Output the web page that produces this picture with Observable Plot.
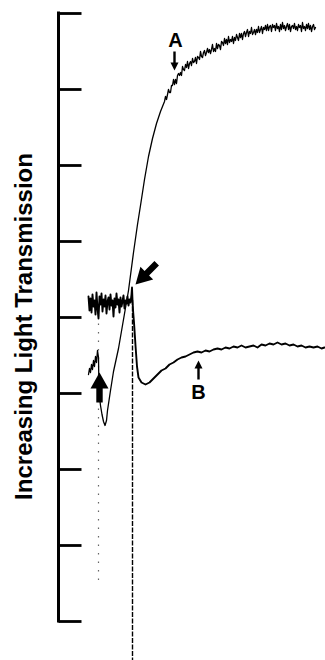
<!DOCTYPE html>
<html>
<head>
<meta charset="utf-8">
<script src="https://cdn.jsdelivr.net/npm/d3@7"></script>
<script src="https://cdn.jsdelivr.net/npm/@observablehq/plot@0.6"></script>
<style>
  html, body { margin: 0; padding: 0; background: #fff; }
  #chart { width: 325px; height: 660px; overflow: hidden; }
</style>
</head>
<body>
<div id="chart"></div>
<script>
// ---- data (time in arbitrary units, light transmission in arbitrary units) ----
const yLabel = "Increasing Light Transmission";
const yTicks = [0, 76, 152, 228, 304, 380, 456, 532, 608];
const timeDomain = [0, 265];

// Trace A
const aTime = [30,31,32,33,34,35,36,37,38,39,40,40.5,42,43.5,45,46.5,48,49,52,55,60,65,70,75,79,82,86,90,94,98,102,
  106,107,108,109,110,111,112,113,114,115,
  116,117,118,119,120,121,122,123,124,125,
  126,127,128,129,130,131,132,133,134,135,
  136,137,138,139,140,141,142,143,144,145,
  146,147,148,149,150,151,152,153,154,155,
  156,157,158,159,160,161,162,163,164,165,
  166,167,168,169,170,171,172,173,174,175,
  176,177,178,179,180,181,182,183,184,185,
  186,187,188,189,190,191,192,193,194,195,
  196,197,198,199,200,201,202,203,204,205,
  206,207,208,209,210,211,212,213,214,215,
  216,217,218,219,220,221,222,223,224,225,
  226,227,228,229,230,231,232,233,234,235,
  236,237,238,239,240,241,242,243,244,245,
  246,247,248,249,250,251,252,253,254,255,256,257];
const aLevel = [247,253,249,257,252,261,255,265,259,271,264,229,216,207,200,196,201,211,231,250,273,302,331,369,397,416,442,465,483,498,510,
  520,525,522,527,532,529,529,536,536,542,
  537,542,538,546,548,546,549,546,555,552,
  551,557,554,560,553,558,560,556,563,559,
  560,564,558,565,564,562,570,565,564,569,
  571,566,569,573,569,572,568,572,577,570,
  573,570,578,573,577,576,572,580,579,576,
  583,578,582,577,585,579,582,580,585,578,
  584,581,587,584,581,588,584,588,582,588,
  590,585,589,592,585,590,588,594,587,589,
  592,587,592,589,595,589,592,595,588,594,
  592,596,591,597,591,595,596,590,597,594,
  596,591,598,593,595,590,597,592,599,593,
  596,591,595,598,592,597,590,595,596,593,
  598,592,595,591,597,594,596,590,599,593,
  595,591,597,593,598,592,596,590,595,597,592,594];

// Trace B
const bTime = [30,31,32,33,34,35,36,37,38,39,40,41,42,43,44,45,46,47,48,49,50,51,52,53,54,55,56,57,58,59,60,61,62,63,64,65,66,67,68,69,70,71,72,73,
  73.5,74,74.7,75.5,77,78.5,80,83,87,91,95,99,103,107,111,115,119,123,127,131,135,139,143,147,151,155,159,163,167,171,175,179,183,187,
  191,195,199,203,207,211,215,219,223,227,231,235,239,243,247,251,255,259,263,266];
const bLevel = [325,311,323,309,327,315,321,307,329,313,303,325,317,328,310,322,315,326,308,320,324,312,327,316,321,305,323,314,328,317,322,309,324,315,320,326,313,321,318,325,316,322,319,327,
  334,321,309,299,276,255,244,239,237,239,243,247,251,253,257,259,262,264,265,267,269,270,269,271,270,272,273,272,274,273,275,274,276,274,
  275,276,274,277,276,278,277,279,277,278,276,277,275,276,274,275,274,275,273,274];

// fast transients recorded as faint / dotted vertical strokes
const faintTransient = [{time: 40, top: 306, bottom: 41}];
const sharpTransient = [{time: 74, top: 321, bottom: -39}];

// stimulus markers (big arrows): tip position and direction (degrees)
const stimTime = [41, 77];
const stimLevel = [249, 337];
const stimRotate = [0, 225];

// trace labels and pointer arrows
const labelText = ["A", "B"];
const labelTime = [117, 140];
const labelLevel = [581, 229];
const pointerTime = [116, 140];
const pointerLevel = [551, 261];
const pointerRotate = [180, 0];

// ---- helpers ----
function filledArrow(headLen, headHalf, stemHalf) {
  return {
    draw(context, l) {
      const b = -l + headLen;
      context.moveTo(-stemHalf, 0);
      context.lineTo(-stemHalf, b);
      context.lineTo(-headHalf, b);
      context.lineTo(0, -l);
      context.lineTo(headHalf, b);
      context.lineTo(stemHalf, b);
      context.lineTo(stemHalf, 0);
      context.closePath();
    }
  };
}
// tick drawn as a thin filled bar (thickness in px)
const tickBar = (half) => ({draw(context, l) {
  context.moveTo(-half, 0); context.lineTo(-half, -l); context.lineTo(half, -l); context.lineTo(half, 0); context.closePath();
}});
const zip = (xs, ys) => xs.map((x, i) => ({x, y: ys[i], i}));

const font = "'Liberation Sans', Arial, sans-serif";

const chart = Plot.plot({
  width: 325,
  height: 660,
  marginLeft: 58,
  marginRight: 2,
  marginTop: 13,
  marginBottom: 39,
  x: {domain: timeDomain, axis: null},
  y: {domain: [yTicks[0], yTicks[yTicks.length - 1]], axis: null},
  style: {background: "#fff", color: "#000", fontFamily: font},
  marks: [
    Plot.ruleX([timeDomain[0]], {y1: yTicks[0], y2: yTicks[yTicks.length - 1], strokeWidth: 3, strokeLinecap: "square"}),
    Plot.vector(yTicks, {x: timeDomain[0], y: (d) => d, rotate: 90, length: 23, anchor: "start",
      shape: tickBar(1.4), fill: "#000", stroke: "none"}),
    Plot.text([yLabel], {frameAnchor: "left", textAnchor: "middle", rotate: -90, dx: -34, dy: 9,
      fontSize: 24, fontWeight: "bold", fill: "#000"}),
    Plot.ruleX(faintTransient, {x: "time", y1: "top", y2: "bottom", stroke: "#666", strokeWidth: 1.2, strokeDasharray: "1.5 7"}),
    Plot.ruleX(sharpTransient, {x: "time", y1: "top", y2: "bottom", stroke: "#000", strokeWidth: 1.4, strokeDasharray: "5 1.5"}),
    Plot.line(zip(aTime, aLevel), {x: "x", y: "y", stroke: "#000", strokeWidth: 1.3}),
    Plot.line(zip(bTime, bLevel), {x: "x", y: "y", stroke: "#000", strokeWidth: 1.9}),
    Plot.vector(zip(stimTime, stimLevel), {x: "x", y: "y", rotate: (d) => stimRotate[d.i], length: 30, anchor: "end",
      shape: filledArrow(16, 9, 3.2), fill: "#000", stroke: "none"}),
    Plot.vector(zip(pointerTime, pointerLevel), {x: "x", y: "y", rotate: (d) => pointerRotate[d.i], length: 19, anchor: "end",
      shape: filledArrow(8, 4, 1.2), fill: "#000", stroke: "none"}),
    Plot.text(zip(labelTime, labelLevel), {x: "x", y: "y", text: (d) => labelText[d.i], fontSize: 20, fontWeight: "bold", fill: "#000"})
  ]
});
document.getElementById("chart").appendChild(chart);
</script>
</body>
</html>
